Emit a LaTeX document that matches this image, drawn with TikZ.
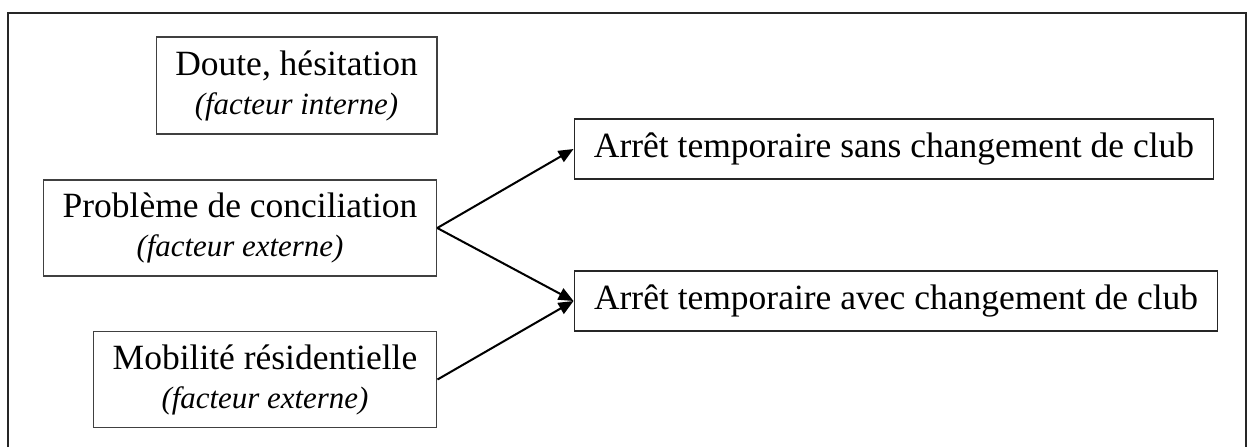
\documentclass[tikz,border=0pt]{standalone}
\usepackage{fontspec}
\setmainfont{Liberation Serif}
\usetikzlibrary{arrows.meta, positioning}

\newcommand{\maintxt}{\fontsize{20.2}{22.2}\selectfont}
\newcommand{\facttxt}{\fontsize{17.6}{22.2}\selectfont\itshape}

\begin{document}
\begin{tikzpicture}[
    x=0.02cm, y=-0.02cm,
    outerframe/.style={black!85, line width=1.1pt},
    causebox/.style={draw=black!75, line width=0.6pt, inner sep=0pt, align=center, font=\maintxt},
    issuebox/.style={draw=black!85, line width=0.6pt, inner sep=0pt, align=center, font=\maintxt, minimum height=1.2cm},
    arrow/.style={-{Triangle[length=3mm, width=2.5mm]}, line width=1.15pt}
]

% ---------- page (pixel units, y downwards) ----------
\useasboundingbox (0,0) rectangle (1247,447);
\draw[outerframe] (8,447) -- (8,12.7) -- (1246,12.7) -- (1246,447);

% ---------- causes ----------
\node[causebox, minimum width=5.62cm, minimum height=1.94cm] (doute) at (296.5,85.5)
    {Doute, hésitation\\{\facttxt(facteur interne)}};
\node[causebox, minimum width=7.87cm, minimum height=1.92cm] (probleme) at (240,228)
    {Problème de conciliation\\{\facttxt(facteur externe)}};
\node[causebox, minimum width=6.88cm, minimum height=1.93cm] (mobilite) at (265,379.5)
    {Mobilité résidentielle\\{\facttxt(facteur externe)}};

% ---------- outcomes ----------
\node[issuebox, minimum width=12.8cm] (sans) at (894,149)
    {Arrêt temporaire sans changement de club};
\node[issuebox, minimum width=12.88cm] (avec) at (896,301)
    {Arrêt temporaire avec changement de club};

% ---------- arrows ----------
\draw[arrow] (probleme.east) -- (sans.west);
\draw[arrow] (probleme.east) -- (avec.west);
\draw[arrow] (mobilite.east) -- (avec.west);

\end{tikzpicture}
\end{document}
